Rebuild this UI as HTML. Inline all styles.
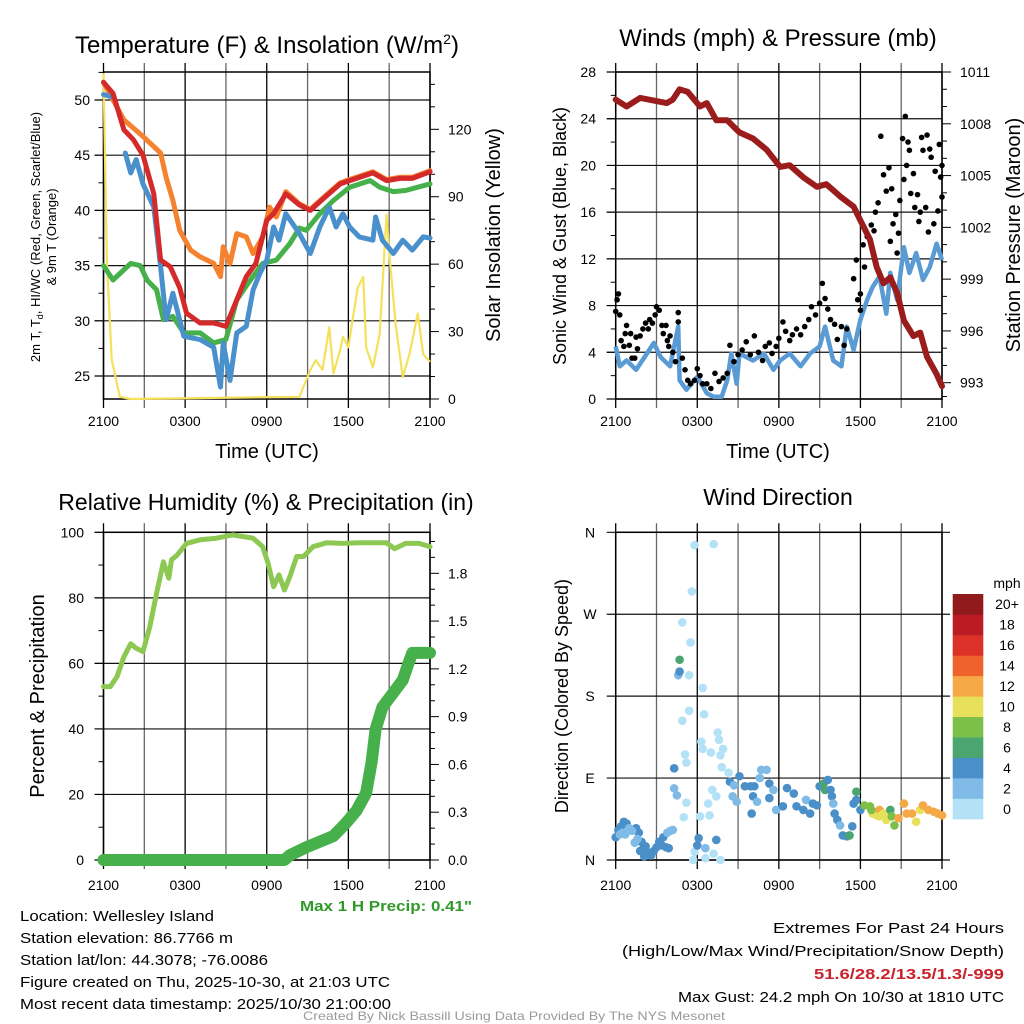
<!DOCTYPE html>
<html><head><meta charset="utf-8">
<style>
html,body{margin:0;padding:0;background:#fff;}
svg{display:block;font-family:"Liberation Sans",sans-serif;}
</style></head>
<body>
<svg id="c" width="1024" height="1024" viewBox="0 0 1024 1024" xmlns="http://www.w3.org/2000/svg">
<g id="g1"></g>
<g id="g2"></g>
<g id="g3"></g>
<g id="g4"></g>
<g id="info">
<text x="20" y="921" font-size="15" textLength="194" lengthAdjust="spacingAndGlyphs">Location: Wellesley Island</text>
<text x="20" y="943" font-size="15" textLength="213" lengthAdjust="spacingAndGlyphs">Station elevation: 86.7766 m</text>
<text x="20" y="965" font-size="15" textLength="248" lengthAdjust="spacingAndGlyphs">Station lat/lon: 44.3078; -76.0086</text>
<text x="20" y="987" font-size="15" textLength="370" lengthAdjust="spacingAndGlyphs">Figure created on Thu, 2025-10-30, at 21:03 UTC</text>
<text x="20" y="1009" font-size="15" textLength="371" lengthAdjust="spacingAndGlyphs">Most recent data timestamp: 2025/10/30 21:00:00</text>
<text x="300" y="911" font-size="15" font-weight="bold" fill="#2f9a2a" textLength="172" lengthAdjust="spacingAndGlyphs">Max 1 H Precip: 0.41"</text>
<text x="1004" y="933" font-size="15" text-anchor="end" textLength="231" lengthAdjust="spacingAndGlyphs">Extremes For Past 24 Hours</text>
<text x="1004" y="956" font-size="15" text-anchor="end" textLength="382" lengthAdjust="spacingAndGlyphs">(High/Low/Max Wind/Precipitation/Snow Depth)</text>
<text x="1004" y="979" font-size="15" font-weight="bold" fill="#c8232c" text-anchor="end" textLength="190" lengthAdjust="spacingAndGlyphs">51.6/28.2/13.5/1.3/-999</text>
<text x="1004" y="1002" font-size="15" text-anchor="end" textLength="326" lengthAdjust="spacingAndGlyphs">Max Gust: 24.2 mph On 10/30 at 1810 UTC</text>
<text x="514" y="1020" font-size="12" fill="#999" text-anchor="middle" textLength="422" lengthAdjust="spacingAndGlyphs">Created By Nick Bassill Using Data Provided By The NYS Mesonet</text>
</g>
</svg>
<script>
// ---------- DATA ----------
const timeTicks = ["2100","0300","0900","1500","2100"];
// Temperature panel
const tT   = [0,0.7,1.5,2.2,2.9,3.7,4.2,4.9,5.6,6.1,7.1,8.1,9,9.5,10.5,11.2,12,12.5,13.4,14.4,15.2,16.1,17.4,18.1,19.8,20.8,21.8,22.7,24];
const tempT= [51.6,50.6,47.3,46.4,45,41.5,35.5,34.9,33,30.7,29.8,29.8,29.5,31,34,35.2,39.1,39.7,41.5,40.5,40,41,42.4,42.7,43.4,42.7,42.9,42.9,43.5];
const tO   = [0,1.5,2.9,4.2,4.6,5.1,5.6,6.4,7.1,8.1,8.6,8.8,9.3,9.8,10.5,11,11.7,12.2,12.7,13.4,14.4,15.2,16.1,17.4,18.1,19.8,20.8,21.8,22.7,24];
const temp9m=[51.6,48.2,46.7,45.2,43,40.9,38.2,36.4,35.8,35.2,34,36.7,35.2,37.9,37.6,36.1,37.6,40.3,39.4,41.7,40.6,40.1,41.1,42.5,42.8,43.5,42.8,43,43,43.6];
const tD   = [0,0.7,2,2.7,3.2,3.9,4.4,5.1,5.9,7.1,8.1,9,9.8,10.8,11.7,12.7,13.7,14.4,14.9,15.9,16.9,18.1,19.6,20.3,21.3,22.2,24];
const dewpt= [35,33.7,35.2,35,33.7,32.8,30.1,30.4,28.9,28.9,28,28.3,31.9,33.7,35.2,35.5,37,38.4,38.2,39.7,40.9,42.1,42.7,42.1,41.7,41.8,42.4];
const tW   = [0,0.6,null,1.6,2,2.4,2.9,3.7,4.2,4.6,5.1,5.9,7.1,8.1,8.6,8.8,9.3,9.8,10.5,11,11.5,12,12.5,12.9,13.4,14.4,15.2,15.9,16.6,17.1,17.6,18.1,18.8,19.8,20,20.5,21.3,22,22.7,23.5,24];
const windChill=[50.5,50.3,null,45.2,43.4,44.6,42.4,40.3,34.9,30.1,32.5,28.6,28.3,27.6,24,28,24.6,28.9,29.5,32.8,34.3,35.5,38.5,37.3,39.7,37.9,36.1,38.5,40.3,38.5,39.7,38.5,37.6,37.3,39.4,37.3,36.1,37.3,36.4,37.6,37.5];
const tS   = [0,0.25,0.6,1.2,2,14.4,15.2,15.6,16.1,16.6,16.9,17.4,17.6,18,18.3,18.7,19.1,19.3,19.8,20.3,20.8,21.1,21.5,22,22.5,23.1,23.5,24];
const solar= [145,61,17.6,1,0,1,12.9,17.3,13,32,11.4,21.8,27.7,23,35,49.8,54.3,23,14,28.9,82,58.6,32,9.8,20.2,38,20,16.5];
const tempTicks=[25,30,35,40,45,50];
const solarTicks=[0,30,60,90,120];
// Wind/pressure panel
const tP = [0,0.8,1.8,3.75,4.2,4.7,5.3,6.2,6.7,7.4,8.2,9.1,10.1,11.1,12.1,12.8,13.8,14.8,15.5,16.5,17.5,18,18.7,19.2,19.7,20.2,20.7,21.2,21.9,22.4,22.9,23.6,24];
const pressure=[1009.4,1009.0,1009.5,1009.2,1009.4,1010.0,1009.85,1009,1009.2,1008.2,1008.2,1007.5,1007.15,1006.5,1005.5,1005.6,1004.9,1004.35,1004.5,1003.8,1003.2,1002.4,1001.3,999.7,998.75,999.1,998.2,996.6,995.7,995.9,994.5,993.5,992.8];
const tWs=[0,0.3,0.8,1.5,2.3,2.8,3.3,4,4.6,4.7,5.2,6,6.7,7.2,7.8,8.2,8.5,8.9,9.1,10.1,10.9,11.6,12.1,12.8,13.6,14.3,15,15.4,16,16.6,17,17.5,18,18.5,18.9,19.4,19.9,20.2,20.7,21.2,21.6,22.1,22.6,23.1,23.6,24];
const windSpd=[4.5,2.8,3.3,2.5,3.9,4.8,3.6,2.8,6.2,1.6,0.8,1.9,0.5,0.2,0.2,1.6,3.9,1.3,3.9,3.3,3.9,2.5,3.3,3.9,2.8,3.9,4.5,6.2,3.3,2.8,6.2,4.2,6.8,8.5,9.6,10.5,7.3,10.8,8.5,13,10.8,12.5,10.2,11.3,13.3,11.9];
const gustT=[0,0.1,0.2,0.3,0.4,0.6,0.7,0.8,1,1.1,1.2,1.4,1.5,1.6,1.8,2,2.2,2.4,2.5,2.7,2.9,3,3.2,3.4,3.5,3.7,3.8,3.9,4,4.2,4.4,4.6,4.6,4.9,5.1,5.3,5.5,5.8,6,6.2,6.4,6.7,7,7.3,7.6,7.9,8.2,8.4,8.7,9,9.3,9.6,9.9,10.2,10.5,10.8,11,11.3,11.5,11.8,12,12.3,12.5,12.8,13,13.3,13.6,13.9,14.2,14.4,14.7,15,15.2,15.4,15.6,15.8,16.1,16.3,16.6,16.8,17,17.5,17.7,17.8,18,18,18.2,18.3,18.5,18.8,19,19.1,19.3,19.5,19.7,19.9,20.1,20.2,20.3,20.4,20.6,20.7,20.8,20.9,21.1,21.2,21.3,21.4,21.5,21.6,21.7,21.9,22,22.2,22.3,22.4,22.5,22.6,22.8,22.9,23,23.1,23.2,23.4,23.5,23.7,23.8,23.9,24,24];
const gustSpd=[7.5,8.5,9,7.2,5,4.5,5.6,6.3,4.6,5.6,3.5,3.5,5.3,4.3,5.4,6,6.5,6,6.8,6.5,7.2,7.9,7.6,6.3,5.6,6.3,5,4.5,5.4,4,3.2,7.4,6.6,3.5,2.5,1.6,1.3,1.6,2.6,2,1.3,1.3,0.9,2.2,1.5,1.8,2.2,4.6,3.2,3.8,4.2,4.9,3.8,5.4,4,3.3,4.5,4.8,3.9,4.5,5.2,6.6,5.8,5,5.5,6,5.5,6.2,6.8,7.9,7.2,8.2,9.9,8.6,7.7,6.8,6.4,5.1,6.2,4.6,6,10.3,11.9,8.5,7.6,9,13.2,11.3,13.9,14.9,14.4,16,16.8,22.5,19.2,17.8,19.8,13.5,18,15,15.8,12.5,14.2,17,22.3,18.8,24.2,20,22,21.3,17.6,19.3,16.4,17.5,15.2,16,22.4,21.3,16.4,22.6,14.3,21.4,20.7,15,19.5,16.1,21.8,19,20,17.3];
const windTicks=[0,4,8,12,16,20,24,28];
const presTicks=[993,996,999,1002,1005,1008,1011];
// RH/precip panel
const tRH=[0,0.5,1,1.5,2,2.4,2.9,3.4,3.9,4.4,4.8,5,5.4,6.1,7.1,8.3,9.5,11,11.7,12.1,12.5,12.9,13.3,13.7,14.2,14.7,15.4,16.4,17.6,18.8,20.8,21.4,22.2,23.2,24];
const rh=[52.9,52.9,56,62,66,64.6,63.6,71.2,81.4,91,86,91.6,93,96.6,97.7,98.2,99.2,98.2,95.6,90.5,83.4,87,82.4,86.5,92.6,92.6,95.6,96.8,96.6,96.8,96.8,95,96.6,96.6,95.6];
const tPr=[0,13.3,13.7,14.9,15.9,16.9,17.8,18.6,19.3,19.7,20,20.5,21.3,22,22.4,22.7,24];
const precip=[0,0,0.03,0.08,0.115,0.15,0.23,0.31,0.42,0.61,0.82,0.96,1.05,1.13,1.23,1.3,1.3];
const rhTicks=[0,20,40,60,80,100];
const prTicks=[0.0,0.3,0.6,0.9,1.2,1.5,1.8];
// Wind direction panel
const dirT=[0,0.2,0.4,0.6,0.8,1.5,1.7,1.8,2,2.2,2.4,2.6,2.8,3,3.2,3.4,3.5,3.7,3.9,1.9,2.1,0.3,0.5,0.7,1,1.2,1.4,1.6,3.8,4,4.2,4.3,4.3,4.5,4.6,4.7,4.7,5.8,7.2,5.6,4.9,5.5,5.4,6.4,4.9,5.4,6.5,5.1,5.2,6.3,6.4,7,7.5,7.6,7.9,7.7,7.8,8.3,7.1,7.4,6.8,5.2,5,6.2,6.9,5.8,5.7,6.6,7.2,7.7,6.1,6,7.4,6.6,8.4,8.7,9.1,9.5,9.9,10.2,10.6,10.7,11.1,11.3,11.6,8.6,8.9,10.1,10.4,10,11.3,11.8,12.3,12.6,13.1,13.3,13.8,14,14.3,14.5,14.8,15,15.3,15.4,15.6,15.8,15.9,16,16.1,16.3,16.5,16.7,17,17.2,17.4,17.5,17.7,17.7,18,18.3,18.7,18.9,19.2,19.4,19.7,19.9,20.2,20.3,20.5,20.8,21.2,21.4,21.8,22.1,22.4,22.6,23,23.4,23.7,24,19.4,18.8];
const dirDeg=[25,33,37,42,40,35,30,10,12,15,8,5,10,14,20,16,25,14,13,20,4,28,30,28,35,32,19,23,30,32,33,100.7,78.7,71,203,207,220,346,347,295,261,239,203,189,153,164,160,116,107,130,122,118,140,132,122,115,102,96,77,70,62,63,47,48,49,9,0,2,7,0,24,16,22,13,86,82,92,81,81,81,90,99,99,84,77,70,64,70,64,51,68,55,59,79,73,59,55,66,51,62,60,81,84,77,88,77,70,62,51,44,38,27,26,27,37,62,75,66,55,60,59,51,49,55,51,44,55,48,38,46,62,51,51,42,55,60,55,53,51,49,48,55];
const dirSpd=[4,4,4,4,4,4,4,4,4,4,4,4,4,4,4,4,4,4,4,4,4,2,2,2,2,2,2,2,2,2,2,4,2,2,2,4,6,0,0,0,0,0,0,0,0,0,0,0,0,0,0,0,0,0,0,0,0,0,0,0,0,0,0,0,0,0,0,0,0,0,4,4,4,2,4,2,4,4,4,4,2,2,2,4,2,2,2,4,2,4,4,2,4,4,4,4,4,2,4,4,4,4,6,6,4,4,4,2,4,4,2,4,4,6,4,4,6,4,4,8,8,10,10,12,10,10,6,8,8,12,12,12,12,10,10,12,12,12,12,12,10,8];
const cbLabels=["0","2","4","6","8","10","12","14","16","18","20+"];
const cbColors=["#b3e2f7","#7fbbe6","#4a8fc8","#4aa56e","#7cc04a","#e6e05a","#f5a846","#ef622c","#dc3128","#bb1b24","#911a1c"];
const dirTickLabels=["N","E","S","W","N"];

// ---------- HELPERS ----------
const NS="http://www.w3.org/2000/svg";
function mk(parent,tag,attrs,txt){const e=document.createElementNS(NS,tag);for(const k in attrs)e.setAttribute(k,attrs[k]);if(txt!==undefined)e.textContent=txt;parent.appendChild(e);return e;}
function lin(d0,d1,r0,r1){return v=>r0+(v-d0)*(r1-r0)/(d1-d0);}
function pathD(xs,ys,fx,fy){let d="",pen=false;for(let i=0;i<xs.length;i++){if(xs[i]===null||ys[i]===null){pen=false;continue;}d+=(pen?"L":"M")+fx(xs[i]).toFixed(1)+","+fy(ys[i]).toFixed(1);pen=true;}return d;}
function panel(g,L,R,T,B){
  const fx=lin(0,24,L,R);
  for(let h=0;h<=24;h+=3){const x=fx(h);
    const ln=mk(g,"line",{x1:x,y1:T-9,x2:x,y2:B+9,stroke:(h%6===0?"#000":"#666"),"stroke-width":1.3});
    
    
  }
  return fx;
}
function xLabels(g,fx,y){timeTicks.forEach((t,i)=>{const tx=mk(g,"text",{x:fx(i*6),y:y,"font-size":14,"text-anchor":"middle"},t);
  
  });}
function hgrid(g,L,R,y,ext){const ln=mk(g,"line",{x1:L-9,y1:y,x2:R+(ext||0),y2:y,stroke:"#111","stroke-width":1.2});
  
  }
function tick(g,x,y,len,dir){const ln=mk(g,"line",{x1:x,y1:y,x2:x+dir*len,y2:y,stroke:"#000","stroke-width":1});
  
  }
function label(g,x,y,txt,anchor,size,name,rot,extra){const a={x:x,y:y,"font-size":size||14,"text-anchor":anchor||"middle"};if(rot)a.transform=`rotate(${rot} ${x} ${y})`;if(extra)Object.assign(a,extra);const t=mk(g,"text",a,txt);
  
  return t;}
function border(g,L,R,T,B){const r=mk(g,"rect",{x:L,y:T,width:R-L,height:B-T,fill:"none",stroke:"#000","stroke-width":1.5});
  
  }

// ---------- PANEL 1 ----------
(function(){
  const g=document.getElementById("g1");
  const L=103.5,R=430,T=72,B=399;
  const fx=panel(g,L,R,T,B);
  const fy=lin(25,50,376,100);
  const fs=lin(0,120,399,129.3);
  tempTicks.forEach(v=>{hgrid(g,L,R,fy(v));label(g,90,fy(v)+5,String(v),"end",14,"y-tick-label");});
  for(let v=22.5;v<=52.5;v+=2.5){if(fy(v)>=T&&fy(v)<=B)tick(g,L,fy(v),v%5===0?9:5,-1);}
  for(let v=0;v<=140;v+=10){tick(g,R,fs(v),v%30===0?9:5,1);}
  solarTicks.forEach(v=>label(g,448,fs(v)+5,String(v),"start",14,"right-tick-label"));
  border(g,L,R,T,B);
  const ps=mk(g,"path",{d:pathD(tS,solar,fx,fs),fill:"none",stroke:"#f5e15a","stroke-width":2.2,"stroke-linejoin":"round"});
  
  
  const series=[[tO,temp9m,"#f5822f","temp-9m-line"],[tD,dewpt,"#46b04a","dewpoint-line"],[tW,windChill,"#4a90cc","wind-chill-line"],[tT,tempT,"#d42a2a","temperature-line"]];
  series.forEach(s=>{const p=mk(g,"path",{d:pathD(s[0],s[1],fx,fy),fill:"none",stroke:s[2],"stroke-width":5,"stroke-linejoin":"round","stroke-linecap":"round"});
    
    });
  xLabels(g,fx,426);
  const t=label(g,267,53,"Temperature (F) & Insolation (W/m",'middle',24,"panel-title");
  mk(t,"tspan",{"font-size":14,dy:-9},"2");
  mk(t,"tspan",{"font-size":24,dy:9},")");
  const yt=label(g,40,237,"2m T, T","middle",13,"y-axis-title",-90);
  mk(yt,"tspan",{"font-size":9,dy:3},"d");
  mk(yt,"tspan",{dy:-3},", HI/WC (Red, Green, Scarlet/Blue)");
  label(g,56,237,"& 9m T (Orange)","middle",13,"y-axis-title-line2",-90);
  label(g,267,458,"Time (UTC)","middle",20,"x-axis-title");
  label(g,500,235,"Solar Insolation (Yellow)","middle",20,"right-axis-title",-90);
})();

// ---------- PANEL 2 ----------
(function(){
  const g=document.getElementById("g2");
  const L=615.7,R=942,T=72,B=399;
  const fx=panel(g,L,R,T,B);
  const fy=lin(0,28,399,72);
  const fp=lin(993,1011,382.7,72);
  windTicks.forEach(v=>{hgrid(g,L,R,fy(v));label(g,596,fy(v)+5,String(v),"end",14,"y-tick-label");});
  for(let v=0;v<=28;v+=2)tick(g,L,fy(v),v%4===0?9:5,-1);
  for(let v=993;v<=1011;v+=1)tick(g,R,fp(v),(v-993)%3===0?9:5,1);
  tick(g,R,fp(992.2),5,1);
  presTicks.forEach(v=>label(g,960,fp(v)+5,String(v),"start",14,"right-tick-label"));
  border(g,L,R,T,B);
  const pw=mk(g,"path",{d:pathD(tWs,windSpd,fx,fy),fill:"none",stroke:"#5a9bd5","stroke-width":4.5,"stroke-linejoin":"round"});
  
  
  gustT.forEach((h,i)=>{const c=mk(g,"circle",{cx:fx(h),cy:fy(gustSpd[i]),r:2.8,fill:"#000"});
    
    });
  const pp=mk(g,"path",{d:pathD(tP,pressure,fx,fp),fill:"none",stroke:"#9b1c1c","stroke-width":6,"stroke-linejoin":"round","stroke-linecap":"round"});
  
  
  xLabels(g,fx,426);
  label(g,778,46,"Winds (mph) & Pressure (mb)","middle",24,"panel-title");
  label(g,778,458,"Time (UTC)","middle",20,"x-axis-title");
  label(g,566,236,"Sonic Wind & Gust (Blue, Black)","middle",18,"y-axis-title",-90);
  label(g,1020,235,"Station Pressure (Maroon)","middle",20,"right-axis-title",-90);
})();

// ---------- PANEL 3 ----------
(function(){
  const g=document.getElementById("g3");
  const L=103.5,R=430,T=532.3,B=860;
  const fx=panel(g,L,R,T,B);
  const fy=lin(0,100,860,532.3);
  const fr=lin(0,1.8,860,573.3);
  rhTicks.forEach(v=>{hgrid(g,L,R,fy(v));label(g,84,fy(v)+5,String(v),"end",14,"y-tick-label");});
  for(let v=0;v<=100;v+=10)tick(g,L,fy(v),v%20===0?9:5,-1);
  for(let v=0;v<=20;v+=1)tick(g,R,fr(v/10),v%3===0?9:5,1);
  prTicks.forEach(v=>label(g,448,fr(v)+5,v.toFixed(1),"start",14,"right-tick-label"));
  border(g,L,R,T,B);
  const p1=mk(g,"path",{d:pathD(tRH,rh,fx,fy),fill:"none",stroke:"#8dc853","stroke-width":5,"stroke-linejoin":"round","stroke-linecap":"round"});
  
  
  const p2=mk(g,"path",{d:pathD(tPr,precip,fx,fr),fill:"none",stroke:"#46b04a","stroke-width":12,"stroke-linejoin":"round","stroke-linecap":"round"});
  
  
  xLabels(g,fx,890);
  label(g,266,510,"Relative Humidity (%) & Precipitation (in)","middle",23,"panel-title");
  label(g,44,696,"Percent & Precipitation","middle",20,"y-axis-title",-90);
})();

// ---------- PANEL 4 ----------
(function(){
  const g=document.getElementById("g4");
  const L=615.7,R=942,T=532.3,B=860;
  const fx=panel(g,L,R,T,B);
  const fy=lin(0,360,860,532.3);
  dirTickLabels.forEach((s,i)=>{const y=fy(i*90);hgrid(g,L,R,y,8);label(g,590,y+5,s,"middle",14,"direction-tick-label");});
  border(g,L,R,T,B);
  dirT.forEach((h,i)=>{const c=mk(g,"circle",{cx:fx(h),cy:fy(dirDeg[i]),r:4.3,fill:cbColors[Math.min(10,Math.round(dirSpd[i]/2))]});
    
    });
  xLabels(g,fx,890);
  label(g,778,505,"Wind Direction","middle",23,"panel-title");
  label(g,568,696,"Direction (Colored By Speed)","middle",18,"y-axis-title",-90);
  const cbT=594,cbB=819,h=(cbB-cbT)/11;
  cbColors.forEach((c,i)=>{const r=mk(g,"rect",{x:952.7,y:cbB-(i+1)*h,width:30.6,height:h+0.3,fill:c});
    
    
    label(g,1007,cbB-(i+0.5)*h+5,cbLabels[i],"middle",14,"colorbar-label");});
  label(g,1007,588,"mph","middle",14,"colorbar-title");
})();
</script>
</body></html>
